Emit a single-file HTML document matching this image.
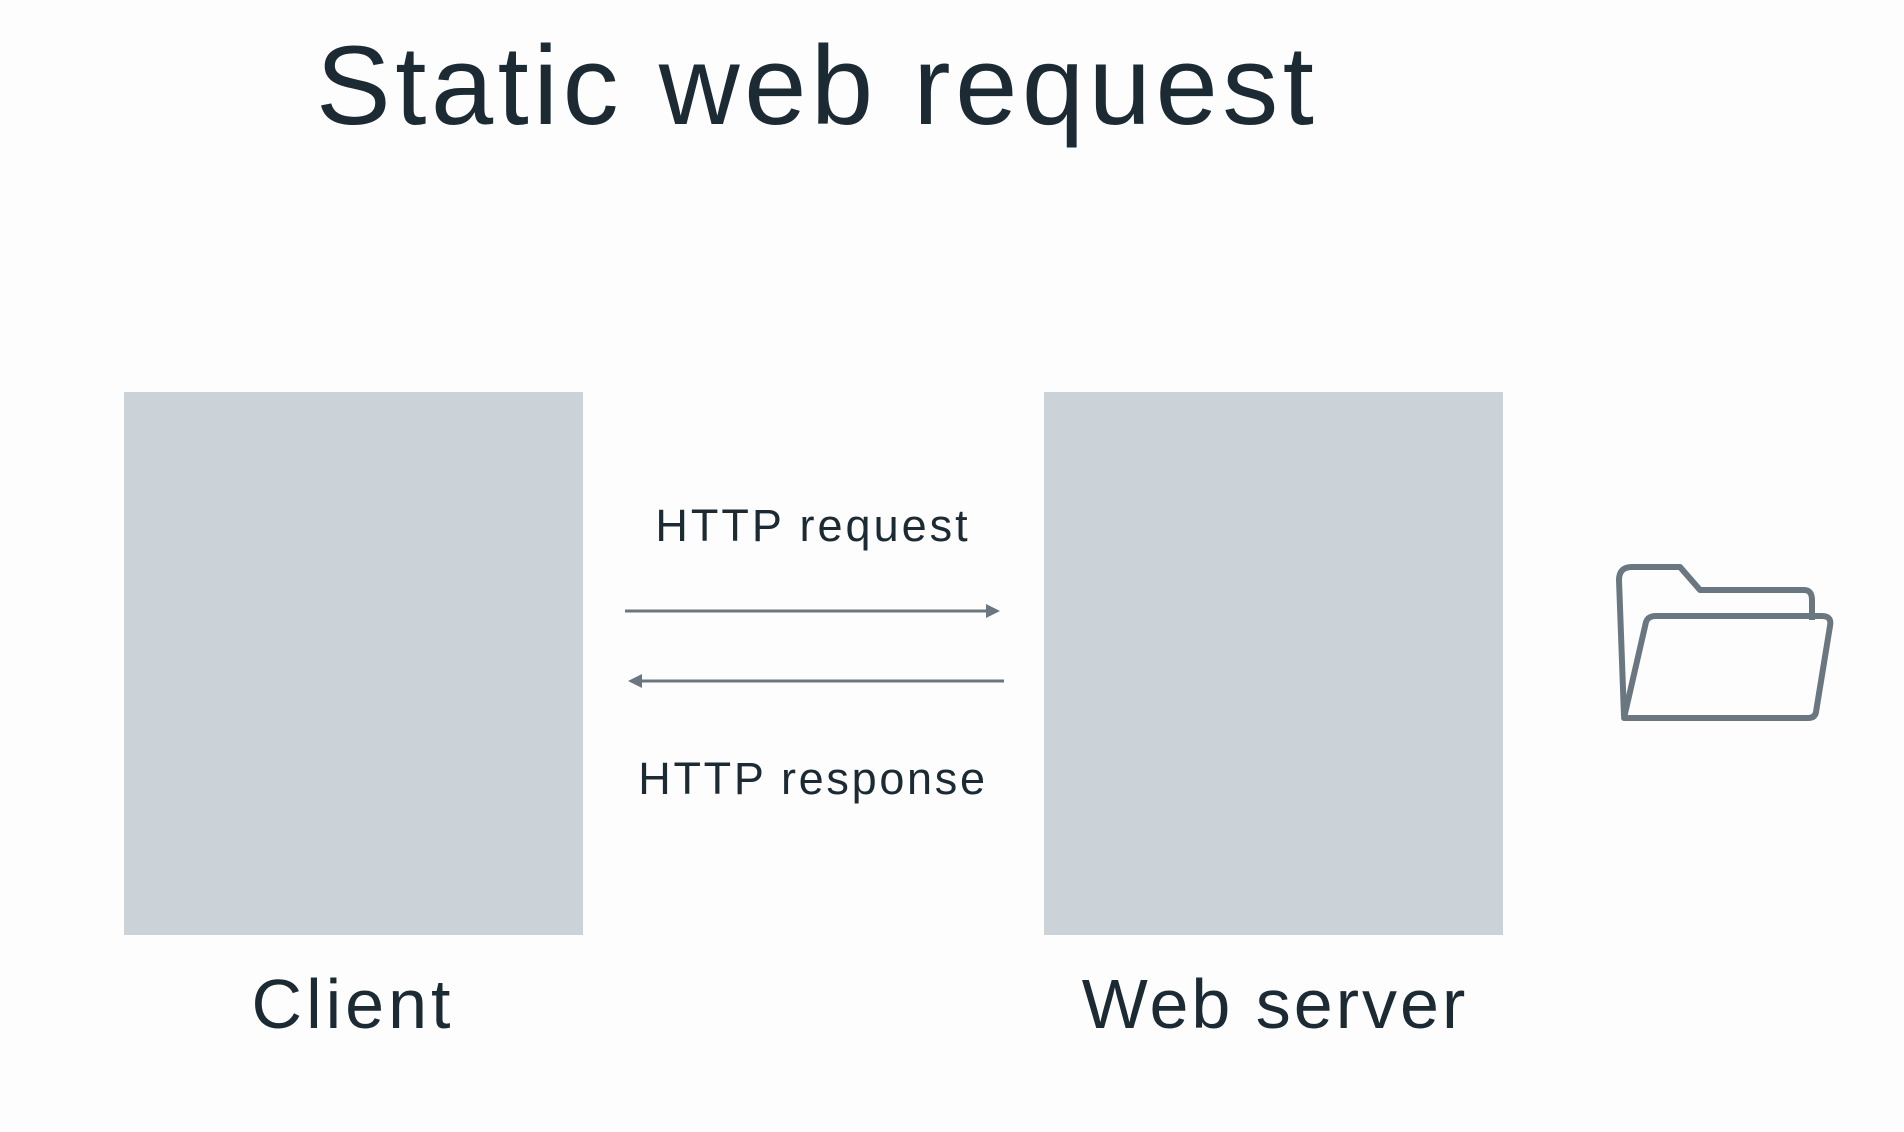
<!DOCTYPE html>
<html>
<head>
<meta charset="utf-8">
<style>
  html,body{margin:0;padding:0;}
  body{width:1904px;height:1132px;background:#fdfdfd;position:relative;overflow:hidden;font-family:"Liberation Sans",sans-serif;color:#1c2b33;}
  .t{position:absolute;white-space:nowrap;line-height:1;}
  .box{position:absolute;background:#cbd3d8;}
</style>
</head>
<body>
  <div class="t" style="left:316px;top:30px;font-size:112px;letter-spacing:4.5px;">Static web request</div>

  <div class="box" style="left:124px;top:392px;width:459px;height:543px;"></div>
  <div class="box" style="left:1044px;top:392px;width:459px;height:543px;"></div>

  <div class="t" style="left:203px;top:969px;font-size:70px;width:300px;text-align:center;letter-spacing:4px;">Client</div>
  <div class="t" style="left:1075px;top:969px;font-size:70px;width:400px;text-align:center;letter-spacing:3px;">Web server</div>

  <div class="t" style="left:613px;top:503px;font-size:45px;width:400px;text-align:center;letter-spacing:3px;">HTTP request</div>
  <div class="t" style="left:613px;top:756px;font-size:45px;width:400px;text-align:center;letter-spacing:2.7px;">HTTP response</div>

  <svg style="position:absolute;left:0;top:0;" width="1904" height="1132">
    <g stroke="#6b7780" stroke-width="3" fill="#6b7780">
      <line x1="625" y1="611" x2="990" y2="611"/>
      <polygon points="1000,611 986,604 986,618" stroke="none"/>
      <line x1="638" y1="681" x2="1004" y2="681"/>
      <polygon points="628,681 642,674 642,688" stroke="none"/>
    </g>
    <g fill="none" stroke="#6b7780" stroke-width="6" stroke-linejoin="round">
      <path d="M1624,716 L1619,580 Q1619,567 1632,567 L1680,567 L1700,590 L1804,590 Q1812,590 1812,600 L1812,620"/>
      <path d="M1624,718 L1646,622 Q1648,616 1656,616 L1822,616 Q1832,616 1830,626 L1816,712 Q1815,718 1808,718 Z"/>
    </g>
  </svg>
</body>
</html>
